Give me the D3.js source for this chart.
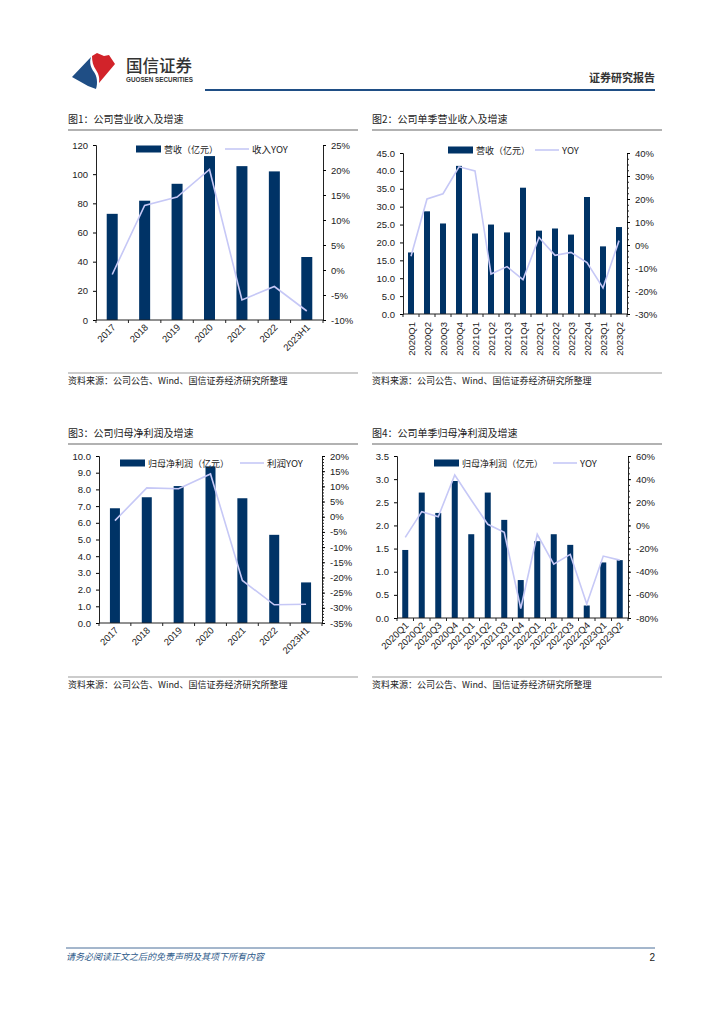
<!DOCTYPE html>
<html><head><meta charset="utf-8">
<script src="https://cdn.jsdelivr.net/npm/d3@7"></script>
<style>
body{margin:0;background:#fff;}
svg{display:block;}
text{font-family:"Liberation Sans","Noto Sans CJK SC",sans-serif;}
.cjk{font-family:"Noto Sans CJK SC",sans-serif;}
</style></head>
<body>
<svg id="page" width="724" height="1024"></svg>
<script>
// ---------- DATA ----------
const yearCats = ["2017","2018","2019","2020","2021","2022","2023H1"];
const revenueAnnual = [72.8, 81.8, 93.4, 112.4, 105.5, 101.9, 43.2];
const revenueAnnualYoy = [-0.9, 12.9, 14.6, 20.1, -6.0, -3.3, -8.2];

const quarterCats = ["2020Q1","2020Q2","2020Q3","2020Q4","2021Q1","2021Q2","2021Q3","2021Q4","2022Q1","2022Q2","2022Q3","2022Q4","2023Q1","2023Q2"];
const revenueQuarter = [17.2, 28.7, 25.3, 41.4, 22.5, 25.0, 22.8, 35.3, 23.3, 23.9, 22.2, 32.7, 18.9, 24.3];
const revenueQuarterYoy = [-4.9, 20.0, 22.3, 34.0, 32.2, -12.6, -9.4, -15.1, 3.3, -4.5, -3.2, -7.6, -18.7, 1.9];

const profitAnnual = [6.87, 7.53, 8.20, 9.38, 7.47, 5.28, 2.43];
const profitAnnualYoy = [-1.3, 9.5, 9.2, 14.1, -21.0, -29.0, -28.8];

const profitQuarter = [1.47, 2.71, 2.27, 2.96, 1.81, 2.71, 2.12, 0.82, 1.66, 1.81, 1.58, 0.27, 1.20, 1.25];
const profitQuarterYoy = [-10.3, 11.9, 7.5, 43.6, 22.0, 1.0, -6.0, -71.8, -7.7, -33.4, -25.0, -68.0, -26.5, -30.0];

const leftTicks1 = [0,20,40,60,80,100,120];
const rightTicks1 = [-10,-5,0,5,10,15,20,25];
const leftTicks2 = [0,5,10,15,20,25,30,35,40,45];
const rightTicks2 = [-30,-20,-10,0,10,20,30,40];
const leftTicks3 = [0,1,2,3,4,5,6,7,8,9,10];
const rightTicks3 = [-35,-30,-25,-20,-15,-10,-5,0,5,10,15,20];
const leftTicks4 = [0,0.5,1,1.5,2,2.5,3,3.5];
const rightTicks4 = [-80,-60,-40,-20,0,20,40,60];

const BAR = "#003366";
const LINE = "#c6c8f6";
const svg = d3.select("#page");

// ---------- HEADER ----------
const logo = svg.append("g");
logo.append("path").attr("d","M72,77 L91,57 C89,63 91,68 94,72 C97,76 98,83 96,89 L88,86 Z").attr("fill","#1f4e85");
logo.append("path").attr("d","M92,56 L97,53 L104,56 L109,55 L115,64 L99,83 C100,77 98,73 96,70 C93,66 92,61 92,56 Z").attr("fill","#d2232a");
svg.append("text").attr("class","cjk").attr("x",126).attr("y",72).attr("font-size",16.5).attr("fill","#333").attr("font-weight",500).text("国信证券");
svg.append("text").attr("x",126).attr("y",82).attr("font-size",6.5).attr("fill","#333").attr("font-weight","bold")
  .attr("textLength",67).attr("lengthAdjust","spacingAndGlyphs").text("GUOSEN SECURITIES");
svg.append("line").attr("x1",205).attr("x2",655).attr("y1",90).attr("y2",90).attr("stroke","#1f4e85").attr("stroke-width",2);
svg.append("text").attr("class","cjk").attr("x",655).attr("y",82).attr("text-anchor","end").attr("font-size",11).attr("font-weight","bold").attr("fill","#333").text("证券研究报告");

// ---------- FOOTER ----------
svg.append("line").attr("x1",66).attr("x2",655).attr("y1",948).attr("y2",948).attr("stroke","#4a6f99").attr("stroke-width",1);
svg.append("text").attr("class","cjk").attr("x",66).attr("y",960).attr("font-size",9).attr("font-style","italic").attr("fill","#2e5a8a").text("请务必阅读正文之后的免责声明及其项下所有内容");
svg.append("text").attr("x",655).attr("y",961).attr("text-anchor","end").attr("font-size",10).attr("fill","#222").text("2");

// ---------- CHART FUNCTION ----------
function chart(o){
  const g = svg.append("g");
  g.append("text").attr("class","cjk").attr("x",o.tx).attr("y",o.ty).attr("font-size",10).attr("fill","#222").text(o.title);
  g.append("line").attr("x1",o.tx).attr("x2",o.tx+290).attr("y1",o.ty+7).attr("y2",o.ty+7).attr("stroke","#999").attr("stroke-width",1.5);
  g.append("line").attr("x1",o.tx).attr("x2",o.tx+290).attr("y1",o.srcY-11).attr("y2",o.srcY-11).attr("stroke","#999").attr("stroke-width",1);
  g.append("text").attr("class","cjk").attr("x",o.tx).attr("y",o.srcY).attr("font-size",9).attr("fill","#222").text("资料来源：公司公告、Wind、国信证券经济研究所整理");

  const x = d3.scaleBand().domain(o.cats).range([o.x0,o.x1]);
  const yL = d3.scaleLinear().domain([o.lt[0],o.lt[o.lt.length-1]]).range([o.y0,o.y1]);
  const yR = d3.scaleLinear().domain([o.rt[0],o.rt[o.rt.length-1]]).range([o.y0,o.y1]);

  g.selectAll("rect.bar").data(o.bars).join("rect").attr("class","bar")
    .attr("x",(d,i)=>x(o.cats[i])+x.bandwidth()/2-o.bw/2).attr("width",o.bw)
    .attr("y",d=>yL(d)).attr("height",d=>yL(0)-yL(d)).attr("fill",BAR);
  const line = d3.line().x((d,i)=>x(o.cats[i])+x.bandwidth()/2).y(d=>yR(d));
  g.append("path").datum(o.yoy).attr("d",line).attr("fill","none").attr("stroke",LINE).attr("stroke-width",1.6);

  const la = g.append("g").attr("transform",`translate(${o.x0},0)`)
    .call(d3.axisLeft(yL).tickValues(o.lt).tickSize(3).tickPadding(5).tickFormat(o.lf));
  la.select(".domain").attr("stroke","#222");
  la.selectAll("text").attr("font-size",9.5).attr("fill","#222");
  if(o.rminor){
    const minor = d3.range(o.rt[0], o.rt[o.rt.length-1]+0.001, o.rminor);
    g.append("g").attr("transform",`translate(${o.x1},0)`)
      .call(d3.axisRight(yR).tickValues(minor).tickSize(2).tickFormat(""))
      .call(s=>s.select(".domain").remove()).selectAll("line").attr("stroke","#222");
  }
  const ra = g.append("g").attr("transform",`translate(${o.x1},0)`)
    .call(d3.axisRight(yR).tickValues(o.rt).tickSize(3).tickPadding(5).tickFormat(d=>d+"%"));
  ra.select(".domain").attr("stroke","#222");
  ra.selectAll("text").attr("font-size",9.5).attr("fill","#222");
  g.append("line").attr("x1",o.x0).attr("x2",o.x1).attr("y1",o.y0).attr("y2",o.y0).attr("stroke","#222");
  const bounds = o.cats.map(c=>x(c)).concat([o.x1]);
  g.selectAll("line.xt").data(bounds).join("line").attr("class","xt")
    .attr("x1",d=>d).attr("x2",d=>d).attr("y1",o.y0).attr("y2",o.y0+3).attr("stroke","#222");
  g.selectAll("text.xl").data(o.cats).join("text").attr("class","xl")
    .attr("font-size",9.5).attr("fill","#222").attr("text-anchor","end")
    .attr("transform",d=>{
      const cx = x(d)+x.bandwidth()/2;
      return o.rot===-90 ? `translate(${cx+3.5},${o.y0+8}) rotate(-90)` : `translate(${cx+4},${o.y0+8}) rotate(-45)`;
    }).text(d=>d);

  g.append("rect").attr("x",o.lgx).attr("y",o.lgy-3.5).attr("width",25).attr("height",7).attr("fill",BAR);
  g.append("text").attr("class","cjk").attr("x",o.lgx+28).attr("y",o.lgy+3.5).attr("font-size",9).attr("fill","#222").text(o.barName);
  g.append("line").attr("x1",o.lnx).attr("x2",o.lnx+24).attr("y1",o.lgy).attr("y2",o.lgy).attr("stroke",LINE).attr("stroke-width",1.6);
  g.append("text").attr("class","cjk").attr("x",o.lnx+27).attr("y",o.lgy+3.5).attr("font-size",9.5).attr("fill","#222").text(o.lineName);
}

chart({title:"图1：公司营业收入及增速", tx:68, ty:123, srcY:384,
  cats:yearCats, bars:revenueAnnual, yoy:revenueAnnualYoy,
  x0:96, x1:323, y0:320, y1:145, bw:11,
  lt:leftTicks1, rt:rightTicks1, lf:d=>d, rot:-45,
  lgx:136, lgy:149, lnx:225, barName:"营收（亿元）", lineName:"收入YOY"});

chart({title:"图2：公司单季营业收入及增速", tx:372, ty:123, srcY:384,
  cats:quarterCats, bars:revenueQuarter, yoy:revenueQuarterYoy,
  x0:403, x1:627, y0:314, y1:153, bw:6,
  lt:leftTicks2, rt:rightTicks2, lf:d3.format(".1f"), rot:-90, rminor:2.5,
  lgx:448, lgy:150, lnx:535, barName:"营收（亿元）", lineName:"YOY"});

chart({title:"图3：公司归母净利润及增速", tx:68, ty:437, srcY:688,
  cats:yearCats, bars:profitAnnual, yoy:profitAnnualYoy,
  x0:99, x1:322, y0:623, y1:456, bw:10,
  lt:leftTicks3, rt:rightTicks3, lf:d3.format(".1f"), rot:-45, rminor:1,
  lgx:120, lgy:463, lnx:240, barName:"归母净利润（亿元）", lineName:"利润YOY"});

chart({title:"图4：公司单季归母净利润及增速", tx:372, ty:437, srcY:688,
  cats:quarterCats, bars:profitQuarter, yoy:profitQuarterYoy,
  x0:397, x1:628, y0:618, y1:456, bw:6,
  lt:leftTicks4, rt:rightTicks4, lf:d3.format(".1f"), rot:-45, rminor:5,
  lgx:434, lgy:463, lnx:553, barName:"归母净利润（亿元）", lineName:"YOY"});
</script>
</body></html>
